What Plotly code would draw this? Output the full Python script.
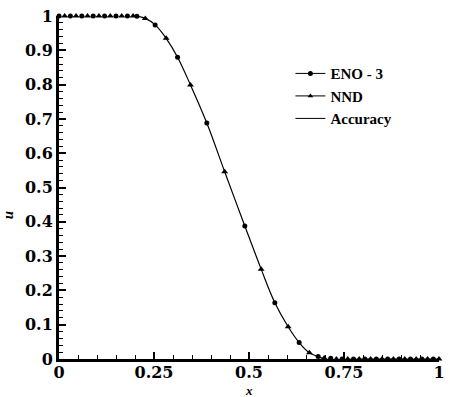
import plotly.graph_objects as go

# ENO-3 symbols (circles)
eno_x = [0.0, 0.03, 0.06, 0.09, 0.12, 0.15, 0.18, 0.205, 0.253, 0.312, 0.389, 0.489,
         0.568, 0.632, 0.682, 0.715, 0.745, 0.775, 0.805, 0.835, 0.865, 0.895, 0.925, 0.955, 0.985]
eno_u = [1.0, 1.0, 1.0, 1.0, 1.0, 1.0, 1.0, 0.999, 0.974, 0.880, 0.688, 0.388,
         0.164, 0.048, 0.007, 0.002, 0.0, 0.0, 0.0, 0.0, 0.0, 0.0, 0.0, 0.0, 0.0]

# NND symbols (triangles)
nnd_x = [0.015, 0.045, 0.075, 0.105, 0.135, 0.165, 0.195, 0.227, 0.282, 0.346, 0.436,
         0.532, 0.603, 0.659, 0.698, 0.73, 0.76, 0.79, 0.82, 0.85, 0.88, 0.91, 0.94, 0.97, 1.0]
nnd_u = [1.0, 1.0, 1.0, 1.0, 1.0, 1.0, 1.0, 0.993, 0.935, 0.799, 0.546,
         0.262, 0.094, 0.018, 0.003, 0.0, 0.0, 0.0, 0.0, 0.0, 0.0, 0.0, 0.0, 0.0, 0.0]

# Accuracy (exact solution)
acc_x = [0.0, 0.10, 0.20, 0.227, 0.253, 0.282, 0.312, 0.346, 0.389, 0.436, 0.489,
         0.532, 0.568, 0.603, 0.632, 0.659, 0.682, 0.70, 0.80, 1.0]
acc_u = [1.0, 1.0, 1.0, 0.993, 0.974, 0.935, 0.880, 0.799, 0.688, 0.546, 0.388,
         0.262, 0.164, 0.094, 0.048, 0.018, 0.007, 0.0, 0.0, 0.0]

x_ticks = [0, 0.25, 0.5, 0.75, 1]
y_ticks = [0, 0.1, 0.2, 0.3, 0.4, 0.5, 0.6, 0.7, 0.8, 0.9, 1]

SERIF = "Liberation Serif"
TICKF = "DejaVu Serif"

fig = go.Figure()
fig.add_trace(go.Scatter(x=acc_x, y=acc_u, mode="lines", name="Accuracy",
                         line=dict(color="black", width=1.2, shape="spline"),
                         showlegend=False, hoverinfo="skip"))
fig.add_trace(go.Scatter(x=eno_x, y=eno_u, mode="markers", name="ENO - 3",
                         marker=dict(symbol="circle", size=5, color="black"),
                         cliponaxis=False, showlegend=False))
fig.add_trace(go.Scatter(x=nnd_x, y=nnd_u, mode="markers", name="NND",
                         marker=dict(symbol="triangle-up", size=6, color="black"),
                         cliponaxis=False, showlegend=False))
# legend entries
fig.add_trace(go.Scatter(x=[None], y=[None], mode="lines+markers", name="ENO - 3",
                         line=dict(color="black", width=1),
                         marker=dict(symbol="circle", size=5, color="black")))
fig.add_trace(go.Scatter(x=[None], y=[None], mode="lines+markers", name="NND",
                         line=dict(color="black", width=1),
                         marker=dict(symbol="triangle-up", size=5, color="black")))
fig.add_trace(go.Scatter(x=[None], y=[None], mode="lines", name="Accuracy",
                         line=dict(color="black", width=1)))

fig.update_layout(
    width=450, height=397,
    margin=dict(l=59, r=5, t=16, b=38),
    paper_bgcolor="white", plot_bgcolor="white",
    font=dict(family=SERIF, size=16, color="black"),
    legend=dict(x=0.609, y=0.88, xanchor="left", yanchor="top",
                bgcolor="rgba(0,0,0,0)",
                font=dict(family=SERIF, size=15, color="black", weight="bold"),
                tracegroupgap=0, itemwidth=30),
    annotations=[
        dict(text="<b><i>u</i></b>", x=-0.16, y=0.42, xref="paper", yref="paper",
             showarrow=False, textangle=-90, font=dict(family=SERIF, size=15)),
        dict(text="<b><i>x</i></b>", x=0.5, y=-0.093, xref="paper", yref="paper",
             showarrow=False, yanchor="middle", font=dict(family=SERIF, size=13)),
    ],
)
fig.update_xaxes(range=[0, 1], tickvals=x_ticks, ticks="inside", ticklen=7, tickwidth=1.5,
                 tickcolor="black", showline=True, linewidth=3, linecolor="black",
                 showgrid=False, zeroline=False, ticklabelstandoff=-3,
                 ticklabeloverflow="allow",
                 minor=dict(dtick=0.05, ticks="inside", ticklen=4, tickcolor="black", tickwidth=1),
                 tickfont=dict(family=TICKF, size=16, color="black", weight="bold"))
fig.update_yaxes(range=[0, 1], tickvals=y_ticks, ticks="inside", ticklen=7, tickwidth=1.5,
                 tickcolor="black", showline=True, linewidth=3, linecolor="black",
                 showgrid=False, zeroline=False, ticklabeloverflow="allow",
                 minor=dict(dtick=0.02, ticks="inside", ticklen=4, tickcolor="black", tickwidth=1),
                 tickfont=dict(family=TICKF, size=16, color="black", weight="bold"))

fig.write_html("out.html")
